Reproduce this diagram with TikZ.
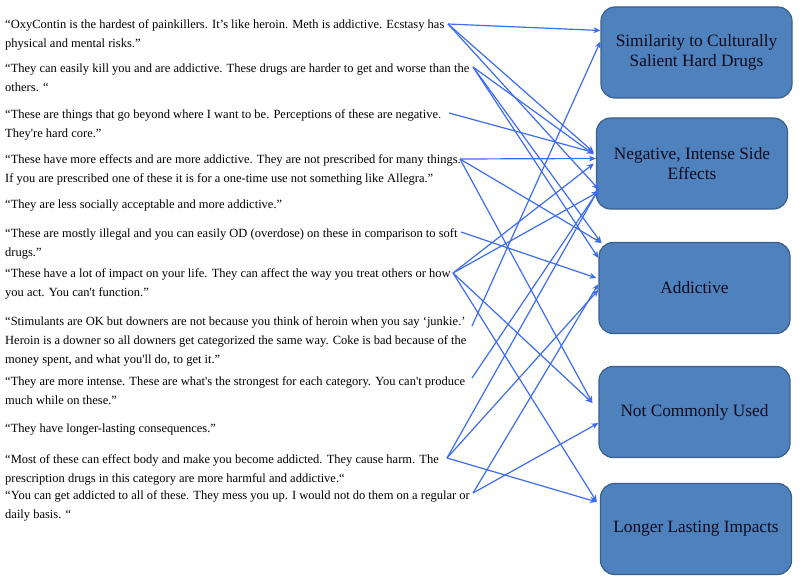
\documentclass[tikz,border=0pt]{standalone}
\usepackage{fontspec}
\setmainfont{Liberation Serif}
\usetikzlibrary{arrows.meta}
\definecolor{boxfill}{HTML}{4F81BD}
\definecolor{boxedge}{HTML}{3A5F8C}
\definecolor{linkblue}{HTML}{3D6CF0}
\definecolor{boxink}{HTML}{0B0B1E}

\tikzset{
  quote/.style={anchor=base west,align=left,inner sep=0pt,
    font=\fontsize{12.5}{19}\selectfont},
  theme/.style={draw=boxedge,line width=1.2pt,fill=boxfill,rounded corners=14pt,
    minimum width=191pt,minimum height=91pt,align=center,text=boxink,
    font=\fontsize{17.3}{20.5}\selectfont,inner sep=2pt},
  link/.style={linkblue,line width=1.2pt,-{Stealth[length=7pt,width=6pt]}}
}
\newcommand{\sq}{\textquotesingle}

\begin{document}
\begin{tikzpicture}[x=1pt,y=-1pt]
  \useasboundingbox (0,0) rectangle (800,583);

  % quotes (anchored at the baseline of their last line)
  \node[quote] (q1) at (5,48) {“OxyContin is the hardest of painkillers. It’s like heroin. Meth is addictive. Ecstasy has\\physical and mental risks.”};
  \node[quote] (q2) at (5,92) {“They can easily kill you and are addictive. These drugs are harder to get and worse than the\\others. “};
  \node[quote] (q3) at (5,137) {“These are things that go beyond where I want to be. Perceptions of these are negative.\\They\sq re hard core.”};
  \node[quote] (q4) at (5,182) {“These have more effects and are more addictive. They are not prescribed for many things.\\If you are prescribed one of these it is for a one-time use not something like Allegra.”};
  \node[quote] (q5) at (5,208) {“They are less socially acceptable and more addictive.”};
  \node[quote] (q6) at (5,256) {“These are mostly illegal and you can easily OD (overdose) on these in comparison to soft\\drugs.”};
  \node[quote] (q7) at (5,296) {“These have a lot of impact on your life. They can affect the way you treat others or how\\you act. You can\sq t function.”};
  \node[quote] (q8) at (5,363) {“Stimulants are OK but downers are not because you think of heroin when you say ‘junkie.’\\Heroin is a downer so all downers get categorized the same way. Coke is bad because of the\\money spent, and what you\sq ll do, to get it.”};
  \node[quote] (q9) at (5,404) {“They are more intense. These are what\sq s the strongest for each category. You can\sq t produce\\much while on these.”};
  \node[quote] (q10) at (5,432) {“They have longer-lasting consequences.”};
  \node[quote] (q11) at (5,482) {“Most of these can effect body and make you become addicted. They cause harm. The\\prescription drugs in this category are more harmful and addictive.“};
  \node[quote] (q12) at (5,518) {“You can get addicted to all of these. They mess you up. I would not do them on a regular or\\daily basis. “};

  % themes
  \node[theme] (hard) at (696.5,52.5) {Similarity to Culturally\\Salient Hard Drugs};
  \node[theme] (effects) at (692,163.5) {Negative, Intense Side\\Effects};
  \node[theme] (addict) at (694.5,288) {Addictive};
  \node[theme] (rare) at (694.5,412) {Not Commonly Used};
  \node[theme] (lasting) at (696,529) {Longer Lasting Impacts};

  % line ends
  \coordinate (s1) at (448,24);
  \coordinate (s2) at (473,67);
  \coordinate (s3) at (449,113);
  \coordinate (s4) at (460,159);
  \coordinate (s6) at (461,232);
  \coordinate (s7) at (453,273);
  \coordinate (s8) at (472,326);
  \coordinate (s9) at (472,378);
  \coordinate (s11) at (447,458);
  \coordinate (s12) at (473,493);

  \draw[link] (s1) -- ([yshift=22pt]hard.west);
  \draw[link] (s1) -- ([xshift=-2pt,yshift=11pt]effects.west);
  \draw[link] (s1) -- ([xshift=3pt,yshift=-26pt]effects.west);
  \draw[link] (s2) -- ([xshift=-2pt,yshift=9pt]effects.west);
  \draw[link] (s2) -- ([xshift=3pt,yshift=45pt]addict.west);
  \draw[link] (s2) -- ([yshift=30pt]addict.west);
  \draw[link] (s3) -- ([xshift=-2pt,yshift=11pt]effects.west);
  \draw[link] (s4) -- ([yshift=5pt]effects.west);
  \draw[link] (s4) -- ([xshift=3pt,yshift=45pt]addict.west);
  \draw[link] (s4) -- ([xshift=-6pt,yshift=9pt]rare.west);
  \draw[link] (s6) -- ([xshift=-2pt,yshift=10pt]addict.west);
  \draw[link] (s7) -- ([xshift=-2pt,yshift=0pt]effects.west);
  \draw[link] (s7) -- ([xshift=3pt,yshift=-28pt]effects.west);
  \draw[link] (s7) -- ([xshift=-6pt,yshift=9pt]rare.west);
  \draw[link] (s7) -- ([xshift=-3pt]lasting.west |- 0,502);
  \draw[link] (s8) -- ([yshift=11pt]hard.west);
  \draw[link] (s9) -- ([xshift=3pt,yshift=-26pt]effects.west);
  \draw[link] (s11) -- ([xshift=3pt,yshift=-25pt]effects.west);
  \draw[link] (s11) -- ([yshift=-2pt]addict.west);
  \draw[link] (s11) -- ([xshift=-3pt]lasting.west |- 0,502);
  \draw[link] (s12) -- ([yshift=4pt]addict.west);
  \draw[link] (s12) -- ([yshift=-11pt]rare.west);
\end{tikzpicture}
\end{document}
